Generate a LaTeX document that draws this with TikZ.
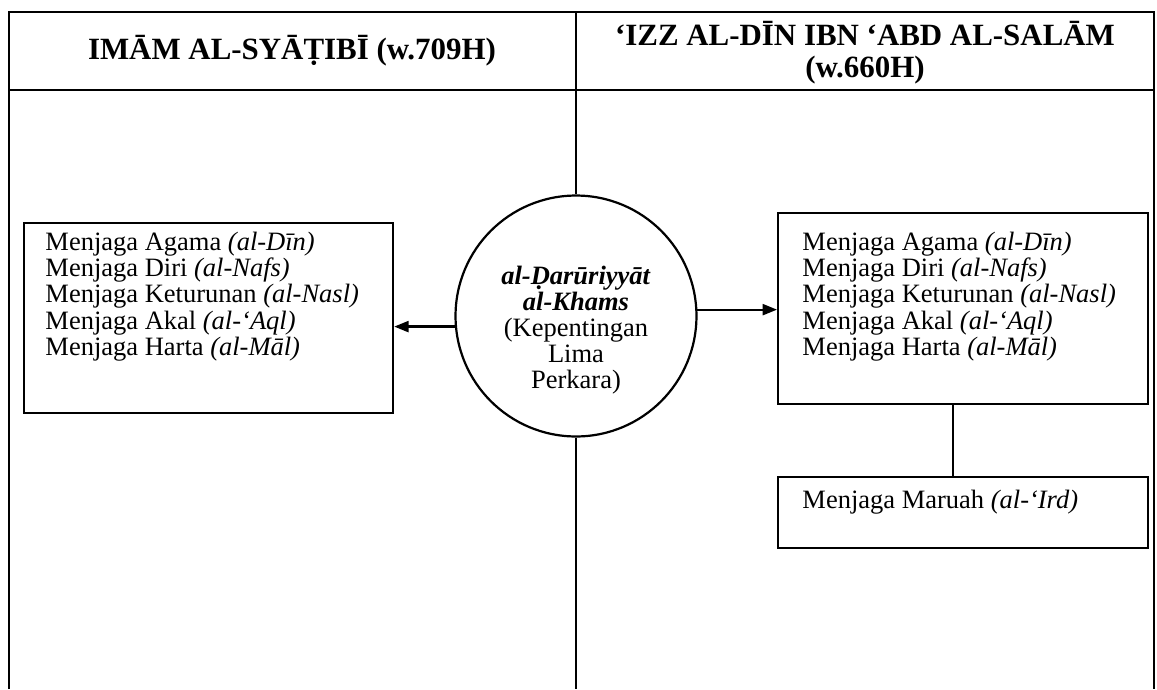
\documentclass[tikz,border=0pt]{standalone}
\usepackage{fontspec}
\setmainfont{Liberation Serif}
\usetikzlibrary{arrows.meta}
\begin{document}
\begin{tikzpicture}[x=0.4528pt,y=-0.4528pt,
  rule/.style={line width=1.3pt},
  boxline/.style={draw,line width=1pt,rectangle,inner sep=0pt},
  headtext/.style={font=\fontsize{14}{14.6}\selectfont\bfseries,align=center,inner sep=0pt},
  bodyfont/.style={font=\fontsize{12}{11.8}\selectfont},
  listtext/.style={bodyfont,align=left,inner sep=0pt,anchor=north west},
  link/.style={line width=1pt},
  arrowlink/.style={line width=1pt,-{Triangle[length=6.5pt,width=5pt]}}]
\useasboundingbox (0,0) rectangle (1157,689);

% table frame: two columns with a header row, open at the bottom
\coordinate (tl) at (9,12);
\coordinate (tr) at (1154,12);
\coordinate (bl) at (9,689);
\coordinate (br) at (1154,689);
\coordinate (hl) at (9,90);
\coordinate (hr) at (1154,90);
\coordinate (mt) at (576,12);
\coordinate (mb) at (576,689);
\draw[rule] (bl) -- (tl) -- (tr) -- (br);
\draw[rule] (hl) -- (hr);

% column headers
\node[headtext] (h1) at (292,51) {IMĀM AL-SYĀṬIBĪ (w.709H)};
\node[headtext] (h2) at (865,53) {‘IZZ AL-DĪN IBN ‘ABD AL-SALĀM\\(w.660H)};

% central circle and its text
\node[draw,circle,line width=1pt,fill=white,minimum size=109.1pt,inner sep=0pt] (circ) at (576,316) {};
\node[bodyfont,align=center,inner sep=0pt] (ctext) at (576,330)
  {\textbf{\textit{al-Ḍarūriyyāt}}\\\textbf{\textit{al-Khams}}\\(Kepentingan\\Lima\\Perkara)};
\draw[rule] (mt) -- (circ.north);
\draw[rule] (circ.south) -- (mb);

% left list
\node[boxline,anchor=north west,minimum width=167.1pt,minimum height=86pt] (lbox) at (23,222) {};
\node[listtext] (ltext) at (45,232)
  {Menjaga Agama \textit{(al-Dīn)}\\Menjaga Diri \textit{(al-Nafs)}\\Menjaga Keturunan \textit{(al-Nasl)}\\Menjaga Akal \textit{(al-‘Aql)}\\Menjaga Harta \textit{(al-Māl)}};

% right list
\node[boxline,anchor=north west,minimum width=167.5pt,minimum height=86.5pt] (rbox) at (777,212) {};
\node[listtext] (rtext) at (802,232)
  {Menjaga Agama \textit{(al-Dīn)}\\Menjaga Diri \textit{(al-Nafs)}\\Menjaga Keturunan \textit{(al-Nasl)}\\Menjaga Akal \textit{(al-‘Aql)}\\Menjaga Harta \textit{(al-Māl)}};

% extra item
\node[boxline,anchor=north west,minimum width=167.5pt,minimum height=32.1pt] (mbox) at (777,476) {};
\node[listtext] (mtext) at (802,490) {Menjaga Maruah \textit{(al-‘Ird)}};

% connectors
\draw[arrowlink] (circ.185.7) -- (circ.185.7 -| lbox.east);
\draw[arrowlink] (circ.3.8) -- (circ.3.8 -| rbox.west);
\coordinate (rb) at (953,0);
\draw[link] (rb |- rbox.south) -- (rb |- mbox.north);
\end{tikzpicture}
\end{document}
